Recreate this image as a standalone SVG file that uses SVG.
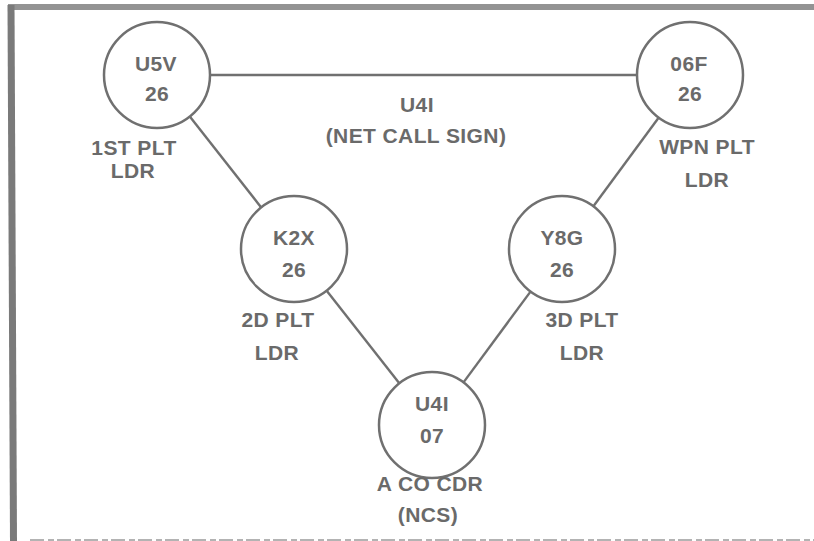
<svg xmlns="http://www.w3.org/2000/svg" width="814" height="541" viewBox="0 0 814 541">
<style>
.node circle{fill:#fff;stroke:#707070;stroke-width:2.5}
text{font-family:"Liberation Sans",Arial,sans-serif;font-weight:bold;font-size:21px;fill:#6a6a6a;text-anchor:middle;letter-spacing:0.4px}
.conn line{stroke:#707070;stroke-width:2.4}
</style>
<rect width="814" height="541" fill="#fff"/>
<g id="frame">
<line x1="8" y1="7" x2="814" y2="7" stroke="#939393" stroke-width="6"/>
<line x1="11" y1="5" x2="13.5" y2="541" stroke="#7a7a7a" stroke-width="7"/>
<line x1="30" y1="540" x2="814" y2="540" stroke="#9a9a9a" stroke-width="1.5" stroke-dasharray="14 4 6 3"/>
</g>
<g class="conn" id="connectors">
<line x1="210" y1="75" x2="637" y2="75"/>
<line x1="189.8" y1="116.6" x2="261.2" y2="207.4"/>
<line x1="326.7" y1="290.7" x2="399.3" y2="383.3"/>
<line x1="530.5" y1="291.6" x2="463.5" y2="382.4"/>
<line x1="658.6" y1="117.7" x2="593.4" y2="206.3"/>
</g>
<g class="node" id="n-u5v">
<circle cx="157" cy="75" r="53"/>
<text x="156" y="71">U5V</text>
<text x="157" y="101">26</text>
<text x="134" y="155">1ST PLT</text>
<text x="133" y="178">LDR</text>
</g>
<g class="node" id="n-06f">
<circle cx="690" cy="75" r="53"/>
<text x="689" y="71">06F</text>
<text x="690" y="101">26</text>
<text x="707" y="154">WPN PLT</text>
<text x="707" y="187">LDR</text>
</g>
<g class="node" id="n-k2x">
<circle cx="294" cy="249" r="53"/>
<text x="294" y="245">K2X</text>
<text x="294" y="277">26</text>
<text x="278" y="327">2D PLT</text>
<text x="277" y="360">LDR</text>
</g>
<g class="node" id="n-y8g">
<circle cx="562" cy="249" r="53"/>
<text x="562" y="245">Y8G</text>
<text x="562" y="277">26</text>
<text x="582" y="327">3D PLT</text>
<text x="582" y="360">LDR</text>
</g>
<g class="node" id="n-u4i">
<circle cx="432" cy="425" r="53"/>
<text x="432" y="411">U4I</text>
<text x="432" y="443">07</text>
<text x="430" y="491">A CO CDR</text>
<text x="428" y="522">(NCS)</text>
</g>
<g id="net-label">
<text x="417" y="112">U4I</text>
<text x="416" y="143">(NET CALL SIGN)</text>
</g>
</svg>
